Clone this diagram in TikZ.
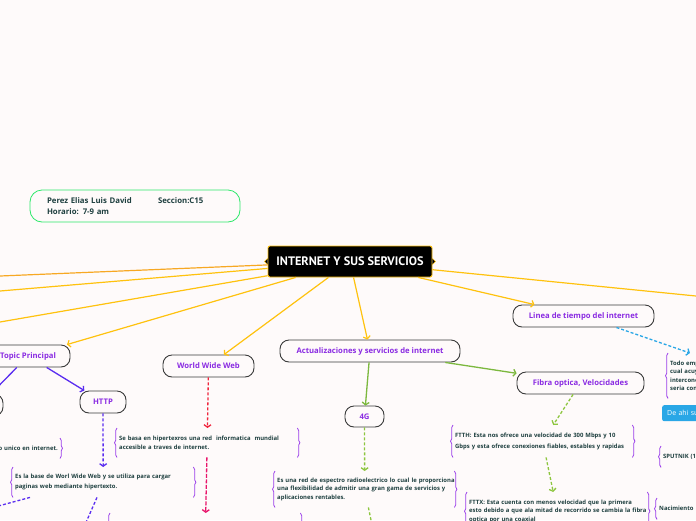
\documentclass[tikz,border=0pt]{standalone}
\usepackage{fontspec}
\setmainfont{Open Sans}
\newfontfamily\titlefont{PT Sans}
\usepackage{tikz}
\usetikzlibrary{arrows.meta,decorations.pathreplacing}
\definecolor{MapPaper}{HTML}{FEFAFA}
\definecolor{MapYellow}{HTML}{FFC20E}
\definecolor{MapOrange}{HTML}{F7A823}
\definecolor{MapPurple}{HTML}{8A2BE2}
\definecolor{MapBrace}{HTML}{9B3FEA}
\definecolor{MapInk}{HTML}{1E3F3F}
\definecolor{MapRule}{HTML}{3A3A3A}
\definecolor{MapViolet}{HTML}{5A2DF0}
\definecolor{MapRed}{HTML}{F0243C}
\definecolor{MapPink}{HTML}{E8146A}
\definecolor{MapGreen}{HTML}{7CB83E}
\definecolor{MapLime}{HTML}{8DC63F}
\definecolor{MapSky}{HTML}{2AA7E6}
\definecolor{MapMint}{HTML}{2EE86A}
\newcommand{\braceBox}[1]{%
  \draw[brace] (#1.south west) -- (#1.north west);
  \draw[brace] (#1.north east) -- (#1.south east);}

\begin{document}
\begin{tikzpicture}[x=1pt,y=-1pt,
  root/.style={fill=black,draw=MapYellow,line width=0.9pt,rounded corners=2pt,text=white,minimum width=164,minimum height=31,inner sep=0pt,font=\titlefont\fontsize{12.3}{13}\selectfont\bfseries},
  info/.style={draw=MapMint,line width=0.8pt,rounded corners=12pt,text width=176,inner xsep=17pt,minimum height=32,align=left,text=MapInk,font=\fontsize{7.8}{10.5}\selectfont\bfseries},
  topic/.style={draw=MapRule,fill=MapPaper,line width=0.9pt,rounded corners=9pt,text=MapPurple,font=\fontsize{7.7}{9}\selectfont\bfseries,inner sep=0pt,minimum height=22},
  desc/.style={text=MapInk,font=\fontsize{5.9}{8.5}\selectfont\bfseries,align=left,inner xsep=2pt,inner ysep=0pt,anchor=north west},
  skybox/.style={fill=MapSky,rounded corners=2pt,text=white,font=\fontsize{7}{8}\selectfont,align=left,text width=60,inner xsep=5pt,inner ysep=0pt,minimum height=16,anchor=north west},
  brace/.style={draw=MapBrace,line width=0.8pt,decorate,decoration={brace,amplitude=2.5pt}},
  tip/.style={-{Straight Barb[length=2.5pt,width=7pt]}},
  trunk/.style={draw=MapYellow,line width=1.2pt},
  branch/.style={line width=1.3pt,tip},
  dashline/.style={line width=1.3pt,dash pattern=on 3pt off 2pt}
]
\useasboundingbox (0,0) rectangle (696,520);
\clip (0,0) rectangle (696,520);
\fill[MapPaper] (0,0) rectangle (696,520);

\node[info] (info) at (135,206) {\makebox[111pt][l]{Perez Elias Luis David}Seccion:C15\\Horario: 7-9 am};
\node[root] (root) at (350,261.5) {INTERNET Y SUS SERVICIOS};
\fill[black,draw=MapYellow,line width=0.6pt] (root.west) ++(0,-3) -- ++(-3,3) -- ++(3,3);
\fill[black,draw=MapYellow,line width=0.6pt] (root.east) ++(0,-3) -- ++(3,3) -- ++(-3,3);

\node[topic,minimum width=84] (tp) at (28,356) {Topic Principal};
\node[topic,minimum width=46] (side) at (-20,405) {};
\node[topic,minimum width=46] (http) at (103,402) {HTTP};
\node[topic,minimum width=91] (www) at (208.5,366) {World Wide Web};
\node[topic,minimum width=180] (act) at (370,351) {Actualizaciones y servicios de internet};
\node[topic,minimum width=39,minimum height=21] (g4) at (364.5,416.5) {4G};
\node[topic,minimum width=127] (fibra) at (580.5,383) {Fibra optica, Velocidades};
\node[topic,minimum width=141] (linea) at (583.5,316) {Linea de tiempo del internet};

\node[desc,text width=96,minimum height=20,align=right,anchor=north east] (dUnico) at (60,438) {o unico en internet.};
\node[desc,text width=176,minimum height=30,font=\fontsize{5.9}{10}\selectfont\bfseries] (dHttp) at (13,467) {Es la base de Worl Wide Web y se utiliza para cargar\\paginas web mediante hipertexto.};
\node[desc,text width=176,minimum height=29] (dWww) at (117,428) {Se basa en hipertexros una red \ informatica \ mundial\\accesible a traves de internet.};
\node[desc,text width=186,minimum height=50] (dWww2) at (110,513) {};
\node[desc,text width=175,minimum height=36] (d4g) at (275,471) {\mbox{Es una red de espectro radioelectrico lo cual le proporciona}\\\mbox{una flexibilidad de admitir una gran gama de servicios y}\\aplicaciones rentables.};
\node[desc,text width=175,minimum height=32,font=\fontsize{5.9}{11}\selectfont\bfseries] (dFtth) at (453,425) {FTTH: Esta nos ofrece una velocidad de 300 Mbps y 10\\Gbps y esta ofrece conexiones fiables, estables y rapidas};
\node[desc,text width=176,minimum height=38] (dFttx) at (467,492) {\mbox{FTTX: Esta cuenta con menos velocidad que la primera}\\\mbox{esto debido a que ala mitad de recorrido se cambia la fibra}\\optica por una coaxial};
\node[desc,text width=170,minimum height=45] (dTodo) at (668,353) {Todo emp\\cual acuy\\intercone\\seria con};
\node[skybox] (deAhi) at (662,405) {De ahi su};
\node[desc,text width=60,minimum height=21] (dSput) at (661,446) {SPUTNIK (1};
\node[desc,text width=60,minimum height=21] (dNac) at (657,498) {Nacimiento};

\braceBox{dUnico}
\braceBox{dHttp}
\braceBox{dWww}
\braceBox{dWww2}
\braceBox{d4g}
\braceBox{dFtth}
\braceBox{dFttx}
\braceBox{dTodo}
\braceBox{dSput}
\braceBox{dNac}

\coordinate (o1) at (0,276);
\coordinate (o2) at (0,291);
\coordinate (o3) at (0,322);
\coordinate (o4) at (696,296);
\coordinate (h1) at (-20,511);
\coordinate (h2) at (84,527);
\coordinate (g1) at (373,530);

\draw[trunk,draw=MapOrange] (root) -- (o1);
\draw[trunk] (root) -- (o2);
\draw[trunk] (root) -- (o3);
\draw[trunk,tip] (root) -- (tp);
\draw[trunk,tip] (root) -- (www);
\draw[trunk,tip] (root) -- (act);
\draw[trunk,tip] (root) -- (linea);
\draw[trunk] (root) -- (o4);

\draw[branch,MapViolet] (tp) -- (side);
\draw[branch,MapViolet] (tp) -- (http);
\draw[dashline,tip,MapViolet] (http) -- (dHttp);
\draw[dashline,MapViolet] ([xshift=17]dHttp.south west) -- (h1);
\draw[dashline,MapViolet] ([xshift=84]dHttp.south west) -- (h2);
\draw[dashline,tip,MapRed] (www) -- (dWww);
\draw[dashline,tip,MapPink,dash pattern=on 4pt off 1.5pt] (dWww) -- (dWww2);
\draw[branch,MapGreen] (act) -- (g4);
\draw[branch,MapGreen] (act) -- (fibra);
\draw[dashline,tip,MapLime] (g4) -- (d4g);
\draw[dashline,MapLime] (d4g) -- (g1);
\draw[dashline,tip,MapLime] (fibra) -- (dFtth);
\draw[dashline,tip,MapLime] (dFtth) -- (dFttx);
\draw[dashline,tip,MapSky] (linea) -- (dTodo);
\end{tikzpicture}
\end{document}
